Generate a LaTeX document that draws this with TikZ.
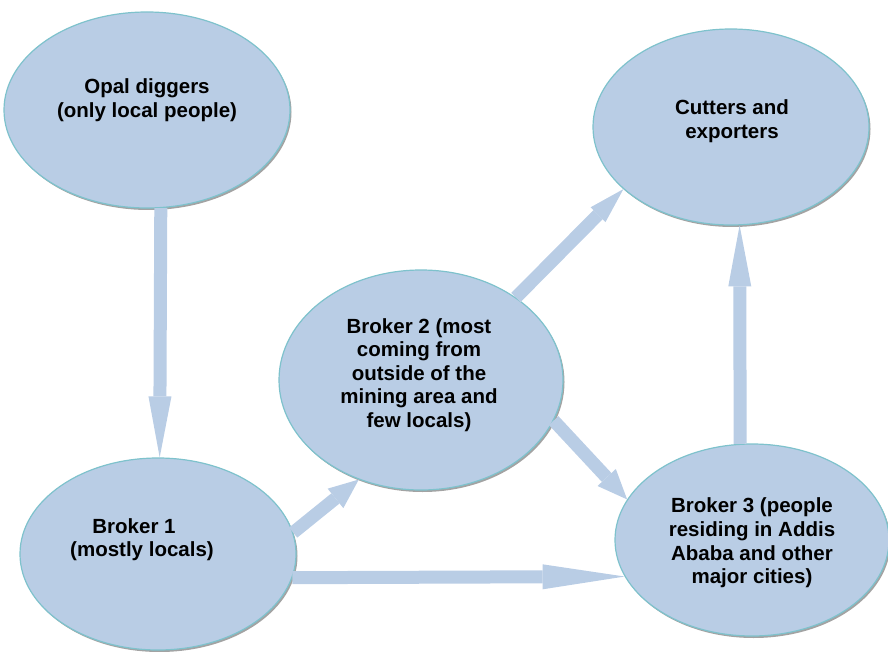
\documentclass[tikz,border=0pt]{standalone}
\usepackage{fontspec}
\setmainfont{Liberation Sans}
\usetikzlibrary{arrows.meta,shapes.geometric,shadows}
\definecolor{ellfill}{HTML}{B9CDE5}
\definecolor{ellline}{HTML}{7EC2CC}
\definecolor{arrfill}{HTML}{B9CDE5}
\begin{document}
\begin{tikzpicture}[x=1pt,y=-1pt,
  ell/.style={ellipse, draw=ellline, line width=1.2pt, fill=ellfill, inner sep=0pt,
    drop shadow={shadow xshift=1.5pt, shadow yshift=-2pt, fill=black!60, opacity=0.6}},
  lbl/.style={align=center, font=\fontsize{20.5}{23.6}\selectfont\bfseries, text=black, inner sep=0pt},
  flow/.style={draw=arrfill, line width=13pt},
  longhead/.style={-{Triangle[length=61pt,width=23pt,line width=0pt]}},
  widehead/.style={-{Triangle[length=82pt,width=25pt,line width=0pt]}},
  shorthead/.style={-{Triangle[length=30pt,width=25pt,line width=0pt]}},
]
\useasboundingbox (0,0) rectangle (888,652);
% nodes
\node[ell, minimum width=286pt, minimum height=196pt] (opal) at (147,110) {};
\node[ell, minimum width=276pt, minimum height=196pt] (cut) at (731,127) {};
\node[ell, minimum width=284pt, minimum height=220pt] (b2) at (421,380) {};
\node[ell, minimum width=276pt, minimum height=192pt] (b1) at (158,554) {};
\node[ell, minimum width=274pt, minimum height=192pt] (b3) at (752,540) {};
% labels
\node[lbl] (topal) at (147,100) {Opal diggers\\(only local people)};
\node[lbl] (tcut) at (732,121.5) {Cutters and\\exporters};
\node[lbl] (tb2) at (419,375) {Broker 2 (most\\coming from\\outside of the\\mining area and\\few locals)};
\node[lbl] (tb1) at (142,539.5) {Broker 1\hspace*{16pt}\\(mostly locals)};
\node[lbl] (tb3) at (752,543) {Broker 3 (people\\residing in Addis\\Ababa and other\\major cities)};
% connectors
\draw[flow,longhead] (opal.-82.7) -- (b1.89);
\draw[flow,longhead] (b3.97.8) -- (cut.-85.3);
\draw[flow,widehead] (b1.-10.6) -- (b3.196.9);
\draw[flow,-{Triangle[length=36pt,width=21pt,line width=0pt]}] (b2.41) -- (cut.210.7);
\draw[flow,shorthead] (b1.9.7) -- (b2.238.2);
\draw[flow,shorthead] (b2.-17) -- (b3.162.5);
\end{tikzpicture}
\end{document}
